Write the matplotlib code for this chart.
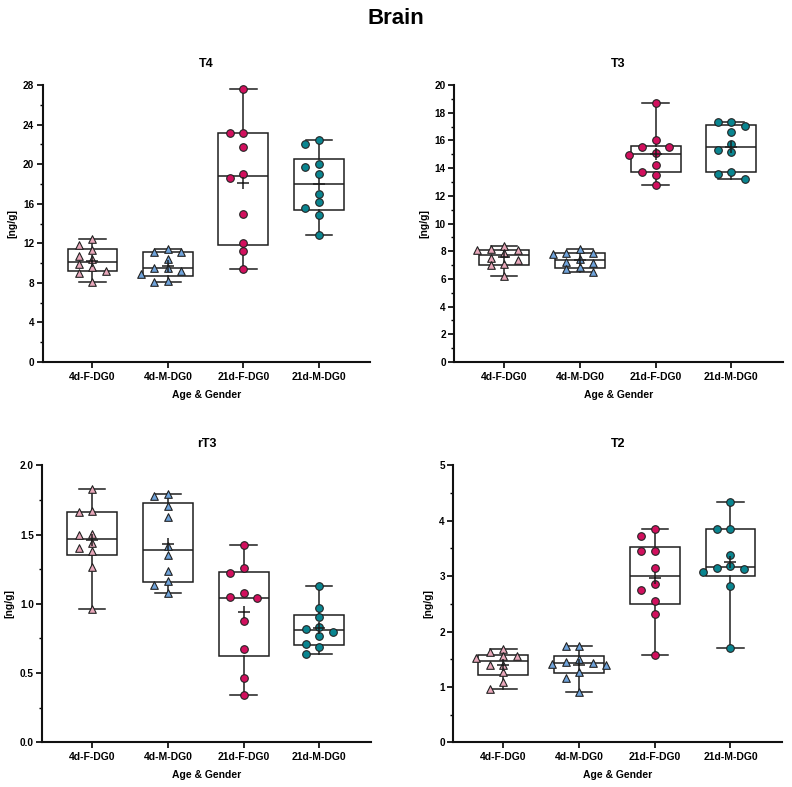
import numpy as np
import matplotlib
matplotlib.use("Agg")
import matplotlib.pyplot as plt
from matplotlib.ticker import MultipleLocator

plt.rcParams['font.family'] = ['Liberation Sans', 'DejaVu Sans']

# ---------------- data ----------------
groups = ["4d-F-DG0", "4d-M-DG0", "21d-F-DG0", "21d-M-DG0"]
panel_titles = ["T4", "T3", "rT3", "T2"]

t4_4dF = [12.43, 11.83, 11.32, 10.75, 10.38, 9.91, 9.57, 9.23, 8.96, 8.09]
t4_4dM = [11.42, 11.15, 11.15, 10.44, 9.50, 9.50, 9.23, 8.86, 8.19, 8.09]
t4_21dF = [27.59, 23.11, 23.11, 21.77, 18.97, 18.56, 14.93, 12.03, 11.25, 9.40]
t4_21dM = [22.41, 22.04, 19.98, 19.68, 18.97, 16.95, 16.14, 15.60, 14.86, 12.84]

t3_4dF = [8.40, 8.16, 8.11, 8.11, 7.85, 7.53, 7.36, 7.05, 6.97, 6.21]
t3_4dM = [8.16, 7.85, 7.85, 7.80, 7.44, 7.24, 7.12, 6.84, 6.69, 6.52]
t3_21dF = [18.72, 16.00, 15.50, 15.50, 15.09, 14.97, 14.22, 13.74, 13.53, 12.76]
t3_21dM = [17.35, 17.35, 17.04, 16.60, 15.74, 15.28, 15.14, 13.74, 13.60, 13.21]

rt3_4dF = [1.829, 1.670, 1.661, 1.502, 1.497, 1.442, 1.406, 1.381, 1.268, 0.965]
rt3_4dM = [1.790, 1.780, 1.706, 1.629, 1.420, 1.353, 1.240, 1.165, 1.136, 1.078]
rt3_21dF = [1.425, 1.256, 1.220, 1.076, 1.047, 1.042, 0.874, 0.671, 0.467, 0.344]
rt3_21dM = [1.131, 0.967, 0.905, 0.833, 0.818, 0.797, 0.765, 0.712, 0.688, 0.635]

t2_4dF = [1.690, 1.630, 1.550, 1.550, 1.520, 1.400, 1.390, 1.260, 1.080, 0.970]
t2_4dM = [1.745, 1.735, 1.498, 1.455, 1.426, 1.420, 1.395, 1.274, 1.155, 0.912]
t2_21dF = [3.851, 3.718, 3.460, 3.448, 3.147, 2.864, 2.750, 2.557, 2.316, 1.576]
t2_21dM = [4.344, 3.851, 3.851, 3.381, 3.189, 3.153, 3.135, 3.069, 2.822, 1.703]

y_max = [28, 20, 2.0, 5]
y_major = [4, 2, 0.5, 1]
y_minor = [2, 1, 0.25, 0.5]

panels = [
    [t4_4dF, t4_4dM, t4_21dF, t4_21dM],
    [t3_4dF, t3_4dM, t3_21dF, t3_21dM],
    [rt3_4dF, rt3_4dM, rt3_21dF, rt3_21dM],
    [t2_4dF, t2_4dM, t2_21dF, t2_21dM],
]

# ---------------- styles ----------------
fill_colors = ["#E8A7BA", "#6FA3DB", "#D2105E", "#0A8590"]
markers = ["^", "^", "o", "o"]
line_col = "#1e1e1e"

fig = plt.figure(figsize=(7.92, 7.87), dpi=100)

W, H = 792, 787
rects = [
    (42.7, 85, 370.0, 362),
    (454.3, 85, 782.7, 362),
    (42.3, 465.3, 370.7, 742.3),
    (453.3, 465.3, 782.0, 742.3),
]


def swarm_offsets(vals, px_per_y, px_per_x, diam=7.5, step=13.5):
    vals = np.asarray(vals, dtype=float)
    order = np.argsort(-vals, kind="stable")
    placed = []
    offs = np.zeros(len(vals))
    cands = [0, -1, 1, -2, 2, -3, 3]
    for i in order:
        y = vals[i] * px_per_y
        xsel = 0.0
        for c in cands:
            x = c * step
            if all(np.hypot(x - px, y - py) >= diam for px, py in placed):
                xsel = x
                break
        placed.append((xsel, y))
        offs[i] = xsel / px_per_x
    return offs


xlim = (-0.66, 3.68)

for k, (l, t, r, b) in enumerate(rects):
    ax = fig.add_axes([l / W, 1 - b / H, (r - l) / W, (b - t) / H])
    data = panels[k]
    pos = np.arange(len(groups))
    stats = []
    for i, v in enumerate(data):
        v = np.asarray(v, dtype=float)
        q1, med, q3 = np.percentile(v, [25, 50, 75], method="weibull")
        stats.append(dict(med=med, q1=q1, q3=q3, whislo=v.min(), whishi=v.max(),
                          mean=v.mean(), fliers=[], label=groups[i]))
    ax.bxp(stats, positions=pos, widths=0.66, capwidths=0.35,
           showmeans=True, showfliers=False, patch_artist=True,
           boxprops=dict(facecolor="white", edgecolor=line_col, linewidth=1.1),
           whiskerprops=dict(color=line_col, linewidth=1.1),
           capprops=dict(color=line_col, linewidth=1.1),
           medianprops=dict(color=line_col, linewidth=1.1),
           meanprops=dict(marker="+", markeredgecolor=line_col, markersize=9,
                          markeredgewidth=1.1, zorder=6),
           zorder=2)

    px_per_y = (b - t) / y_max[k]
    px_per_x = (r - l) / (xlim[1] - xlim[0])
    for i, v in enumerate(data):
        offs = swarm_offsets(v, px_per_y, px_per_x)
        ax.scatter(pos[i] + offs, v, marker=markers[i], s=30,
                   facecolor=fill_colors[i], edgecolor="#222222", linewidth=0.8, zorder=4)

    ax.set_xlim(*xlim)
    ax.set_ylim(0, y_max[k])
    ax.yaxis.set_major_locator(MultipleLocator(y_major[k]))
    ax.yaxis.set_minor_locator(MultipleLocator(y_minor[k]))
    if k == 2:
        ax.yaxis.set_major_formatter(matplotlib.ticker.FormatStrFormatter("%.1f"))
    ax.set_xticks(pos)
    ax.set_xticklabels(groups, fontsize=7.5, fontweight="bold")
    for lab in ax.get_yticklabels():
        lab.set_fontsize(7.2)
        lab.set_fontweight("bold")
    ax.tick_params(axis="y", which="major", length=4, width=1.2, pad=2, labelsize=7.2)
    ax.tick_params(axis="y", which="minor", length=2.5, width=1.0)
    ax.tick_params(axis="x", which="major", length=4, width=1.2, pad=3)
    for sp in ["top", "right"]:
        ax.spines[sp].set_visible(False)
    for sp in ["left", "bottom"]:
        ax.spines[sp].set_linewidth(1.5)
        ax.spines[sp].set_color("#111111")
    ax.set_title(panel_titles[k], fontsize=9, fontweight="bold", pad=13)
    ax.set_ylabel("[ng/g]", fontsize=7.5, fontweight="bold", labelpad=4)
    ax.set_xlabel("Age & Gender", fontsize=7.5, fontweight="bold", labelpad=6)

fig.text(0.5, 1 - 19 / H, "Brain", ha="center", va="center", fontsize=16, fontweight="bold")

fig.savefig("out.png", dpi=100)
